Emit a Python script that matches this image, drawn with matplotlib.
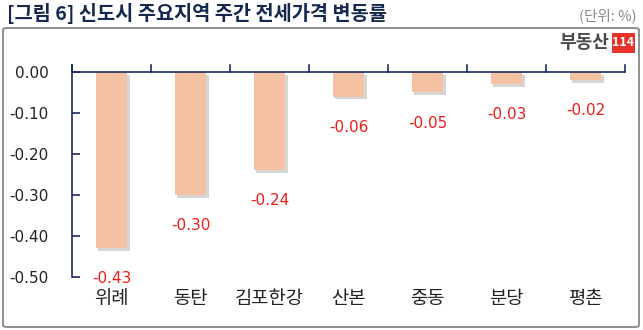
import matplotlib.pyplot as plt
import matplotlib.patheffects as pe
from matplotlib.patches import FancyBboxPatch, Rectangle

plt.rcParams['font.family'] = ['Noto Sans CJK KR', 'DejaVu Sans']

regions = ['위례', '동탄', '김포한강', '산본', '중동', '분당', '평촌']
changes = [-0.43, -0.30, -0.24, -0.06, -0.05, -0.03, -0.02]
yticks = [0.0, -0.1, -0.2, -0.3, -0.4, -0.5]

navy = '#1b2a63'
bar_color = '#f4c1a2'

fig = plt.figure(figsize=(6.43, 3.30), dpi=100)

# outer frame, kept behind the axes
frame = FancyBboxPatch((3 / 643, 3 / 330), 636 / 643, 299 / 330,
                       boxstyle='round,pad=0,rounding_size=0.006',
                       transform=fig.transFigure, facecolor='white',
                       edgecolor='#8e8e8e', linewidth=1.4, zorder=-5)
fig.patches.append(frame)

fig.text(7 / 643, 1 - 13 / 330, '[그림 6] 신도시 주요지역 주간 전세가격 변동률',
         fontsize=14.2, fontweight='bold', color='#15284f', va='center', ha='left')
fig.text(637 / 643, 1 - 16 / 330, '(단위: %)', fontsize=10.5, color='#8a8a8a',
         va='center', ha='right')

# logo
fig.text(609 / 643, 1 - 43 / 330, '부동산', fontsize=13, fontweight='heavy',
         color='#4a4a4a', va='center', ha='right')
fig.patches.append(Rectangle((612 / 643, 1 - 53 / 330), 23 / 643, 20 / 330,
                             transform=fig.transFigure, facecolor='#e8322a',
                             edgecolor='none'))
fig.text(623.5 / 643, 1 - 43 / 330, '114', fontsize=9, fontweight='bold',
         color='white', va='center', ha='center')

ax = fig.add_axes([72 / 643, 53 / 330, 553 / 643, 212 / 330])
ax.patch.set_alpha(0)
x = list(range(len(regions)))
bars = ax.bar(x, changes, width=0.4, color=bar_color, zorder=2)
for b in bars:
    b.set_path_effects([pe.SimplePatchShadow(offset=(2, -2), shadow_rgbFace='#9a9a9a',
                                             alpha=0.4), pe.Normal()])

for xi, v in zip(x, changes):
    ax.annotate(f'{v:.2f}', (xi, v), xytext=(0, -22), textcoords='offset points',
                ha='center', va='center', color='#f01c1c', fontsize=11,
                family=['DejaVu Sans'])

ax.set_xlim(-0.5, len(regions) - 0.5)
ax.set_ylim(-0.5, 0.017)
ax.axhline(0, color=navy, linewidth=1.2, zorder=3)
for b in range(len(regions) + 1):
    ax.plot([b - 0.5, b - 0.5], [0, 0.017], color=navy, linewidth=1.2,
            clip_on=False, zorder=3)

for s in ['top', 'right', 'bottom']:
    ax.spines[s].set_visible(False)
ax.spines['left'].set_color(navy)
ax.spines['left'].set_linewidth(1.2)

ax.set_yticks(yticks)
ax.set_yticklabels([f'{t:.2f}' for t in yticks], family=['DejaVu Sans'])
ax.tick_params(axis='y', direction='in', length=6, width=1.2, color=navy,
               labelsize=11, labelcolor='#222222', pad=17)
ax.set_xticks(x)
ax.set_xticklabels(regions)
ax.tick_params(axis='x', length=0, labelsize=13.5, labelcolor='#222222', pad=8)

fig.savefig('out.png', dpi=100)
